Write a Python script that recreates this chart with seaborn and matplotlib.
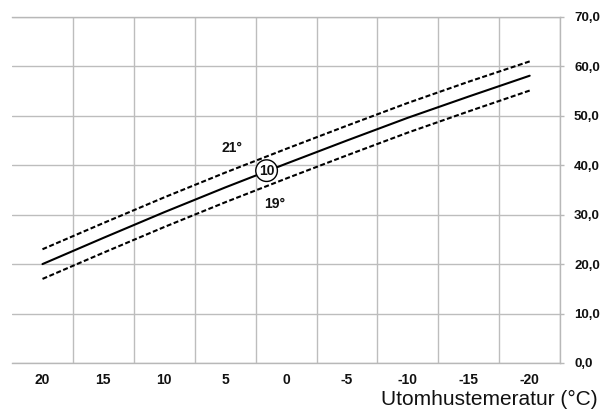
import pandas as pd
import numpy as np
import matplotlib
matplotlib.use("Agg")
import matplotlib.pyplot as plt
import seaborn as sns

# utomhustemperatur (°C) och framledningstemperatur
temps = [20, 15, 10, 5, 0, -5, -10, -15, -20]
kurva_20 = [20.0, 25.3, 30.5, 35.5, 40.3, 45.0, 49.6, 53.9, 58.1]
kurva_21 = [23.0, 28.3, 33.5, 38.5, 43.3, 48.0, 52.6, 56.9, 61.0]
kurva_19 = [17.0, 22.3, 27.5, 32.5, 37.3, 42.0, 46.6, 50.9, 55.1]
y_ticks = [0, 10, 20, 30, 40, 50, 60, 70]

df = pd.DataFrame({
    "temp": temps * 3,
    "varde": kurva_20 + kurva_21 + kurva_19,
    "kurva": ["20"] * 9 + ["21"] * 9 + ["19"] * 9,
})

sns.set_style("white")
plt.rcParams["font.family"] = ["Liberation Sans", "DejaVu Sans"]
plt.rcParams["text.color"] = "#111111"
plt.rcParams["xtick.labelcolor"] = "#111111"
plt.rcParams["ytick.labelcolor"] = "#111111"

fig = plt.figure(figsize=(6.01, 4.12), dpi=100)
ax = fig.add_axes([0.02, 0.119, 0.912, 0.84])

sns.lineplot(data=df, x="temp", y="varde", style="kurva",
             dashes={"20": "", "21": (2.4, 1.2), "19": (2.4, 1.2)},
             color="black", linewidth=1.5, legend=False, ax=ax)

ax.set_xlim(22.5, -22.5)
ax.set_ylim(0, 70)

# etiketter mitt i cellerna, rutnät mellan
ax.set_xticks(temps)
ax.set_xticklabels([str(t) for t in temps], fontweight="bold", fontsize=10)
ax.set_xticks(np.arange(17.5, -23, -5), minor=True)
ax.tick_params(axis="x", which="major", length=0, pad=7)
ax.tick_params(axis="x", which="minor", length=3, color="#b8b8b8", width=1)
ax.grid(axis="x", which="minor", color="#bdbdbd", linewidth=1)

ax.yaxis.tick_right()
ax.set_yticks(y_ticks)
ax.set_yticklabels([f"{v},0" for v in y_ticks], fontweight="bold", fontsize=9.5)
ax.tick_params(axis="y", length=3, color="#b8b8b8", width=1, pad=7)
ax.grid(axis="y", color="#bdbdbd", linewidth=1)

for s in ["top", "bottom", "right"]:
    ax.spines[s].set_color("#b8b8b8")
    ax.spines[s].set_linewidth(1)
ax.spines["left"].set_visible(False)

ax.set_xlabel("")
ax.set_ylabel("")
fig.text(0.994, 0.03, "Utomhustemeratur (°C)", ha="right", va="center", fontsize=15)

ax.text(4.4, 43.5, "21°", fontsize=10, fontweight="bold", ha="center", va="center")
ax.text(0.9, 32.2, "19°", fontsize=10, fontweight="bold", ha="center", va="center")
ax.text(1.6, 38.9, "10", fontsize=10, fontweight="bold", ha="center", va="center",
        bbox=dict(boxstyle="circle,pad=0.22", fc="white", ec="black", lw=1))

fig.savefig("out.png", dpi=100)
